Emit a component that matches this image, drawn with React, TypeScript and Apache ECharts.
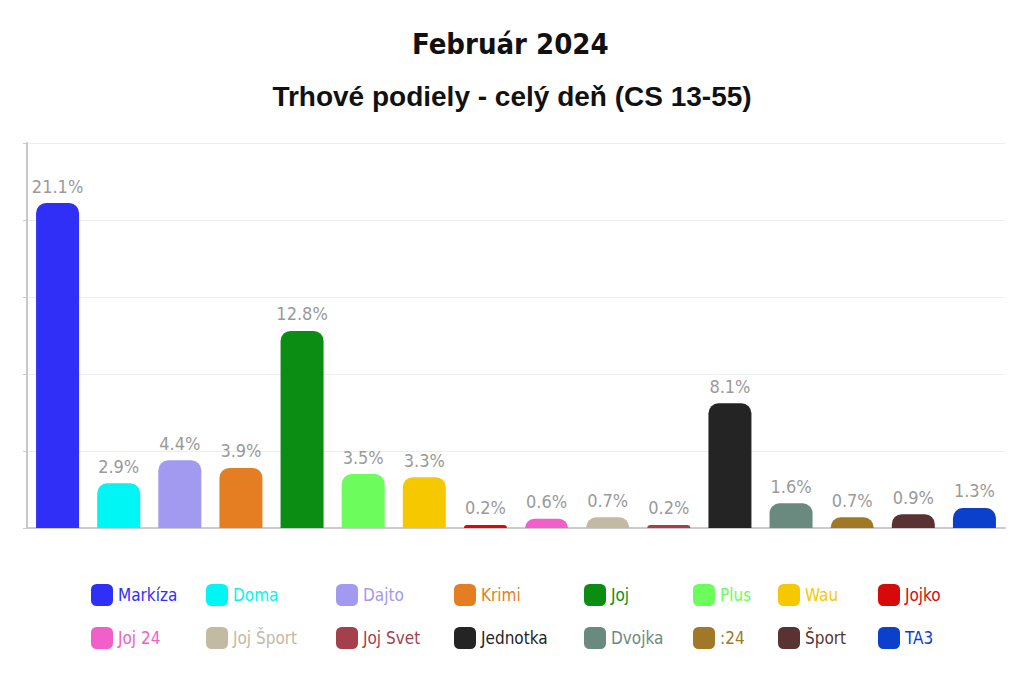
import React, { useEffect, useRef } from "react";
import * as echarts from "echarts";

const channels = [
  "Markíza", "Doma", "Dajto", "Krimi", "Joj", "Plus", "Wau", "Jojko",
  "Joj 24", "Joj Šport", "Joj Svet", "Jednotka", "Dvojka", ":24", "Šport", "TA3",
];
const shares = [21.1, 2.9, 4.4, 3.9, 12.8, 3.5, 3.3, 0.2, 0.6, 0.7, 0.2, 8.1, 1.6, 0.7, 0.9, 1.3];
const colors = [
  "#2f2ff7", "#00f5f5", "#a19af0", "#e57e22", "#0b8c13", "#6cfc5c", "#f5c800", "#d60a0a",
  "#f060c8", "#c2baa2", "#a3404c", "#242424", "#6a8a80", "#a17826", "#5a3232", "#0a40cc",
];
const legendLeft = [86, 201, 331, 449, 579, 688, 773, 873];

const condensed = "'Liberation Sans Narrow', 'DejaVu Sans Condensed', sans-serif";

const App: React.FC = () => {
  const chartRef = useRef<HTMLDivElement>(null);

  useEffect(() => {
    if (!chartRef.current) return;
    const chart = echarts.init(chartRef.current, undefined, { renderer: "svg" });

    // one series per channel, stacked on the same slot so each keeps its own legend entry
    const series = channels.map((name, i) => ({
      name,
      type: "bar" as const,
      data: channels.map((_, j) => (j === i ? shares[i] : "-")),
      barWidth: 43,
      barGap: "-100%",
      itemStyle: { color: colors[i], borderRadius: [10, 10, 0, 0] },
      label: {
        show: true,
        position: "top" as const,
        distance: 8,
        formatter: "{c}%",
        color: "#9a9a9a",
        fontSize: 18,
        fontFamily: condensed,
      },
    }));

    const legends = legendLeft.map((left, col) => ({
      orient: "vertical" as const,
      left,
      top: 579,
      itemWidth: 22,
      itemHeight: 22,
      itemGap: 21,
      icon: "roundRect",
      textStyle: { fontSize: 17, fontFamily: condensed },
      data: [channels[col], channels[col + 8]].map((n) => ({
        name: n,
        textStyle: { color: colors[channels.indexOf(n)] },
      })),
    }));

    chart.setOption({
      animation: false,
      backgroundColor: "#ffffff",
      title: [
        {
          text: "Február 2024",
          left: 407,
          top: 24,
          textStyle: { fontSize: 29, fontWeight: "bold", color: "#111", fontFamily: condensed },
        },
        {
          text: "Trhové podiely - celý deň (CS 13-55)",
          left: "center",
          top: 77,
          textStyle: { fontSize: 28, fontWeight: "bold", color: "#111", fontFamily: "'Liberation Sans', Arial, sans-serif" },
        },
      ],
      legend: legends,
      grid: { left: 27, right: 19, top: 143, bottom: 158 },
      xAxis: {
        type: "category",
        data: channels,
        axisLabel: { show: false },
        axisTick: { show: false },
        axisLine: { lineStyle: { color: "#cccccc", width: 2 } },
      },
      yAxis: {
        type: "value",
        min: 0,
        max: 25,
        interval: 5,
        axisLabel: { show: false },
        axisLine: { show: true, lineStyle: { color: "#c8c8c8", width: 2 } },
        axisTick: { show: true, length: 4, lineStyle: { color: "#c8c8c8" } },
        splitLine: { lineStyle: { color: "#eeeeee" } },
      },
      series,
    });

    return () => {
      chart.dispose();
    };
  }, []);

  return (
    <div
      ref={chartRef}
      style={{ position: "fixed", left: 0, top: 0, width: "1024px", height: "686px" }}
    />
  );
};

export default App;
